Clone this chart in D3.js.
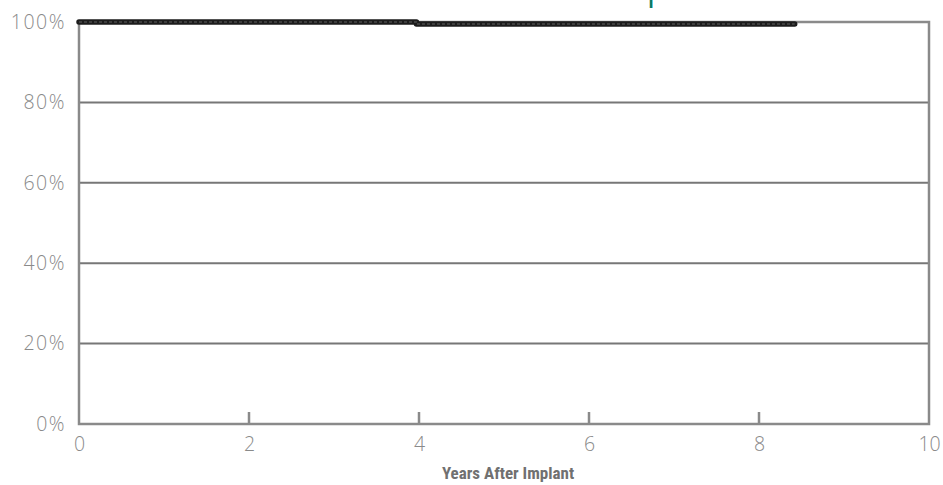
<!DOCTYPE html>
<html><head><meta charset="utf-8">
<script src="https://cdn.jsdelivr.net/npm/d3@7"></script>
<style>
body{margin:0;background:#fff;}
svg{display:block;}
</style></head>
<body>
<svg id="c" width="943" height="485"></svg>
<script>
const survivalYears = [0, 3.97, 3.97, 8.42];
const survivalPct = [100, 100, 99.5, 99.5];
const xTicks = [0, 2, 4, 6, 8, 10];
const yTicks = [0, 20, 40, 60, 80, 100];
const xTitle = "Years After Implant";
const titleFragment = "p";

const W = 943, H = 485;
const m = {left: 79, right: 14, top: 22, bottom: 61};
const svg = d3.select("#c");
const x = d3.scaleLinear().domain([0, 10]).range([m.left, W - m.right]);
const y = d3.scaleLinear().domain([0, 100]).range([H - m.bottom, m.top]);
const gray = "#8a8a8a";
const labelGray = "#8a8a8a";
const font = "'Open Sans', Lato, sans-serif";

// title fragment (cut off at top, as in the reference)
svg.append("text").attr("x", 647).attr("y", -0.5)
  .attr("font-family", font).attr("font-size", 32)
  .attr("fill", "#0b7a66").text(titleFragment);

// gridlines
svg.append("g").selectAll("line").data(yTicks.filter(d => d > 0 && d < 100)).join("line")
  .attr("x1", x(0)).attr("x2", x(10))
  .attr("y1", d => y(d)).attr("y2", d => y(d))
  .attr("stroke", "#777").attr("stroke-width", 2);

// frame
svg.append("rect").attr("x", x(0)).attr("y", y(100))
  .attr("width", x(10) - x(0)).attr("height", y(0) - y(100))
  .attr("fill", "none").attr("stroke", gray).attr("stroke-width", 2.5);

// x axis (inner ticks)
const xAxis = d3.axisBottom(x).tickValues(xTicks).tickSize(0).tickPadding(13).tickFormat(d3.format("d"));
const gx = svg.append("g").attr("transform", `translate(0,${y(0)})`).call(xAxis);
gx.select(".domain").remove();
gx.selectAll("text").attr("font-family", font).attr("font-weight", 300)
  .attr("font-size", 19.5).attr("fill", labelGray);
svg.append("g").selectAll("line").data(xTicks.filter(d => d > 0 && d < 10)).join("line")
  .attr("x1", d => x(d)).attr("x2", d => x(d))
  .attr("y1", y(0)).attr("y2", y(0) - 12)
  .attr("stroke", gray).attr("stroke-width", 2.5);

// y axis
const yAxis = d3.axisLeft(y).tickValues(yTicks).tickSize(0).tickPadding(13).tickFormat(d => d + "%");
const gy = svg.append("g").attr("transform", `translate(${x(0)},0)`).call(yAxis);
gy.select(".domain").remove();
gy.selectAll("text").attr("font-family", font).attr("font-weight", 300)
  .attr("font-size", 19.5).attr("letter-spacing", 1.5).attr("fill", labelGray);

// x title
svg.append("text").attr("x", 508).attr("y", 479)
  .attr("text-anchor", "middle")
  .attr("font-family", "'Liberation Sans Narrow', 'Roboto Condensed', sans-serif")
  .attr("font-weight", "bold").attr("font-size", 17).attr("fill", "#707070")
  .text(xTitle);

// survival line
const pts = survivalYears.map((t, i) => [t, survivalPct[i]]);
const line = d3.line().x(d => x(d[0])).y(d => y(d[1]));
svg.append("path").attr("d", line(pts)).attr("fill", "none")
  .attr("stroke", "#1c1c1c").attr("stroke-width", 5.5)
  .attr("stroke-linecap", "round").attr("stroke-linejoin", "round");
svg.append("path").attr("d", line(pts)).attr("fill", "none")
  .attr("stroke", "#4a4a4a").attr("stroke-width", 1.3)
  .attr("stroke-dasharray", "3 2");
</script>
</body></html>
